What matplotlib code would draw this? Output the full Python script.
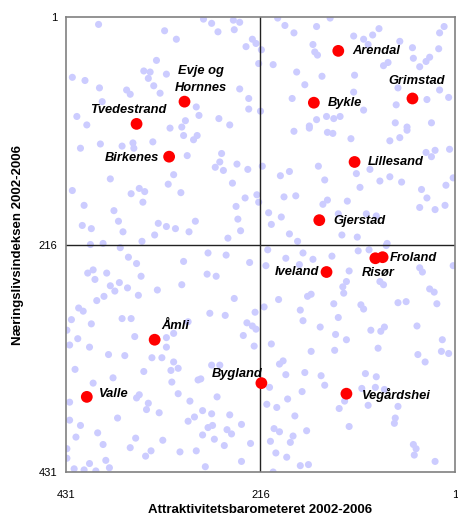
import matplotlib
matplotlib.use("Agg")
import matplotlib.pyplot as plt

plt.rcParams["font.family"] = ["Liberation Sans", "DejaVu Sans"]

# -------------------------------------------------
# Data: ranks (1 = best) for all municipalities
# -------------------------------------------------
bg_x = [395, 322, 309, 331, 345, 338, 320, 340, 424, 410, 394, 334, 364, 360, 327, 391, 287, 419, 408, 299, 316, 303,
        279, 270, 246, 239, 263, 245, 225, 221, 232, 215, 218, 202, 239, 229, 229, 216, 284, 262, 250, 197, 189, 179,
        154, 158, 156, 153, 176, 148, 167, 181, 143, 154, 162,
        139, 85, 92, 102, 113, 97, 62, 48, 75, 80, 47, 29, 33, 40, 19, 18, 13, 112, 113, 64, 18, 8, 32, 66, 135, 128,
        102, 67, 54, 27,
        301, 290, 393, 415, 369, 357, 356, 335, 297, 382, 312, 318, 424, 350, 344, 359, 304, 346, 411, 378, 373, 329,
        413, 403, 368, 333, 320, 310, 295, 288, 404, 390, 347,
        286, 259, 261, 266, 257, 242, 230, 214, 247, 233, 220, 218, 243, 241, 238, 252, 179, 162, 142, 194, 184, 152,
        145, 190, 177, 147, 207, 193, 204, 184, 175,
        136, 116, 73, 62, 54, 33, 23, 7, 27, 110, 95, 73, 84, 60, 106, 3, 11, 38, 142, 120, 32, 40, 23, 12, 130, 99,
        88, 126, 109, 76,
        371, 362, 353, 301, 407, 401, 386, 399, 348, 382, 372, 377, 363, 303, 330, 389, 397, 351, 417, 412, 425, 403,
        369, 359, 296, 430, 418, 355, 312, 320, 320, 427, 405, 384, 366, 336, 325,
        274, 254, 228, 275, 265, 245, 272, 255, 222, 231, 225, 221, 235, 223, 208, 188, 169, 158, 210, 173, 164, 160,
        196, 212, 172, 169, 150, 204, 160,
        137, 108, 96, 77, 118, 121, 125, 124, 84, 80, 40, 37, 3, 29, 24, 135, 105, 102, 64, 55, 21, 130, 94, 83, 79,
        43, 133, 121, 15, 134, 86, 42, 16, 8,
        312, 307, 315, 421, 345, 379, 401, 314, 285, 350, 353, 307, 427, 340, 342, 328, 294, 374, 427, 415, 296, 289,
        396, 420, 354, 324, 390, 360, 337, 343, 305, 287, 430, 430, 387, 405, 383, 422, 411, 398,
        270, 261, 282, 264, 280, 270, 250, 237, 274, 269, 253, 248, 280, 267, 227, 256, 237, 277, 195, 191, 188, 167,
        149, 145, 206, 170, 186, 209, 198, 178, 201, 195, 165, 180, 205, 183, 199, 187, 172, 163, 202,
        34, 100, 88, 104, 89, 79, 123, 129, 97, 64, 67, 68, 118, 47, 44, 46, 23]
bg_y = [8, 14, 22, 42, 52, 53, 55, 59, 58, 61, 68, 66, 70, 74, 73, 81, 86, 95, 103, 99, 106, 105,
        3, 7, 4, 6, 15, 13, 22, 26, 29, 32, 45, 46, 69, 78, 88, 90, 94, 97, 103, 2, 9, 16,
        10, 27, 34, 37, 53, 57, 65, 78, 95, 98, 104,
        2, 12, 18, 22, 19, 27, 24, 30, 44, 47, 40, 39, 43, 48, 31, 16, 10, 56, 72, 68, 70, 77, 79, 84, 97, 95,
        89, 101, 105, 101,
        113, 117, 121, 125, 123, 120, 125, 119, 132, 154, 150, 159, 165, 163, 166, 168, 167, 176, 179, 184, 194, 196,
        198, 201, 204, 207, 199, 201, 204, 194, 216, 215, 213,
        113, 130, 138, 143, 146, 140, 145, 142, 158, 172, 169, 176, 180, 192, 203, 210, 109, 106, 110, 151, 147, 142,
        155, 171, 170, 178, 186, 190, 197, 206, 213,
        111, 116, 118, 115, 108, 129, 127, 126, 133, 149, 145, 152, 156, 157, 162, 153, 160, 164, 174, 175, 172, 181,
        183, 179, 187, 187, 189, 207, 209, 215,
        219, 228, 234, 232, 243, 240, 243, 249, 246, 255, 252, 260, 257, 254, 259, 265, 269, 264, 276, 279, 287, 291,
        286, 286, 289, 297, 305, 303, 300, 304, 313, 311, 313, 320, 321, 323, 323,
        224, 226, 233, 244, 246, 267, 281, 283, 280, 290, 293, 296, 302, 312, 221, 229, 224, 230, 236, 235, 265, 263,
        268, 275, 278, 288, 294, 310, 317,
        227, 222, 221, 217, 241, 251, 256, 262, 251, 254, 238, 242, 236, 258, 261, 272, 273, 277, 271, 270, 272, 285,
        297, 298, 294, 293, 301, 306, 306, 316, 314, 320, 317, 319,
        327, 333, 335, 334, 336, 342, 347, 346, 344, 358, 361, 357, 365, 366, 372, 375, 364, 380, 382, 387, 383, 379,
        394, 398, 399, 401, 405, 408, 411, 416, 412, 411, 409, 418, 420, 423, 427, 428, 429, 430,
        330, 330, 343, 360, 373, 376, 377, 386, 389, 387, 391, 395, 396, 400, 404, 406, 421, 426, 329, 326, 339, 337,
        340, 349, 351, 355, 362, 367, 370, 378, 390, 393, 392, 397, 402, 403, 413, 417, 425, 424, 431,
        327, 338, 341, 352, 351, 353, 364, 371, 368, 369, 380, 385, 388, 405, 409, 415, 421]

kommuner = ["Arendal", "Grimstad", "Bykle", "Evje og\nHornnes", "Tvedestrand", "Birkenes", "Lillesand",
            "Gjerstad", "Froland", "Risør", "Iveland", "Åmli", "Bygland", "Valle", "Vegårdshei"]
attrakt = [130, 48, 157, 300, 353, 317, 112, 151, 81, 89, 143, 333, 215, 408, 121]
naering = [33, 78, 82, 81, 102, 133, 138, 193, 228, 229, 242, 306, 347, 360, 357]

# label placement (offset in pixels, alignment)
label_style = {
    "Arendal": ((14, 0), "left"),
    "Grimstad": ((4, 17), "center"),
    "Bykle": ((14, 0), "left"),
    "Evje og\nHornnes": ((16, 22), "center"),
    "Tvedestrand": ((-8, 14), "center"),
    "Birkenes": ((-10, -1), "right"),
    "Lillesand": ((13, 0), "left"),
    "Gjerstad": ((14, -1), "left"),
    "Froland": ((7, -1), "left"),
    "Risør": ((3, -15), "center"),
    "Iveland": ((-7, 0), "right"),
    "Åmli": ((7, 14), "left"),
    "Bygland": ((1, 9), "right"),
    "Valle": ((12, 3), "left"),
    "Vegårdshei": ((15, -1), "left"),
}

# -------------------------------------------------
# Plot
# -------------------------------------------------
fig = plt.figure(figsize=(4.58, 5.2), dpi=100)
ax = fig.add_axes([0.1441, 0.0923, 0.8493, 0.875])

ax.scatter(bg_x, bg_y, s=26, color="#ccccff", edgecolors="none", zorder=1)
ax.axvline(216, color="#222222", linewidth=1.0, zorder=2)
ax.axhline(216, color="#222222", linewidth=1.0, zorder=2)
ax.scatter(attrakt, naering, s=72, color="#ff0000", edgecolors="none", zorder=3)

for name, xv, yv in zip(kommuner, attrakt, naering):
    (dx, dy), ha = label_style[name]
    ax.annotate(name, (xv, yv), xytext=(dx, dy), textcoords="offset pixels",
                ha=ha, va="center", fontsize=9.3, fontweight="bold", fontstyle="italic",
                linespacing=1.55, zorder=4)

ax.set_xlim(431, 1)
ax.set_ylim(431, 1)
ax.set_xticks([431, 216, 1])
ax.set_yticks([1, 216, 431])
ax.tick_params(axis="x", length=0, pad=13, labelsize=8)
ax.tick_params(axis="y", length=0, pad=6, labelsize=8)
for sp in ax.spines.values():
    sp.set_color("#808080")
    sp.set_linewidth(1.2)

ax.set_xlabel("Attraktivitetsbarometeret 2002-2006", fontsize=9.5, fontweight="bold", labelpad=3)
ax.set_ylabel("Næringslivsindeksen 2002-2006", fontsize=9.5, fontweight="bold", labelpad=11)

fig.savefig("out.png", dpi=100)
